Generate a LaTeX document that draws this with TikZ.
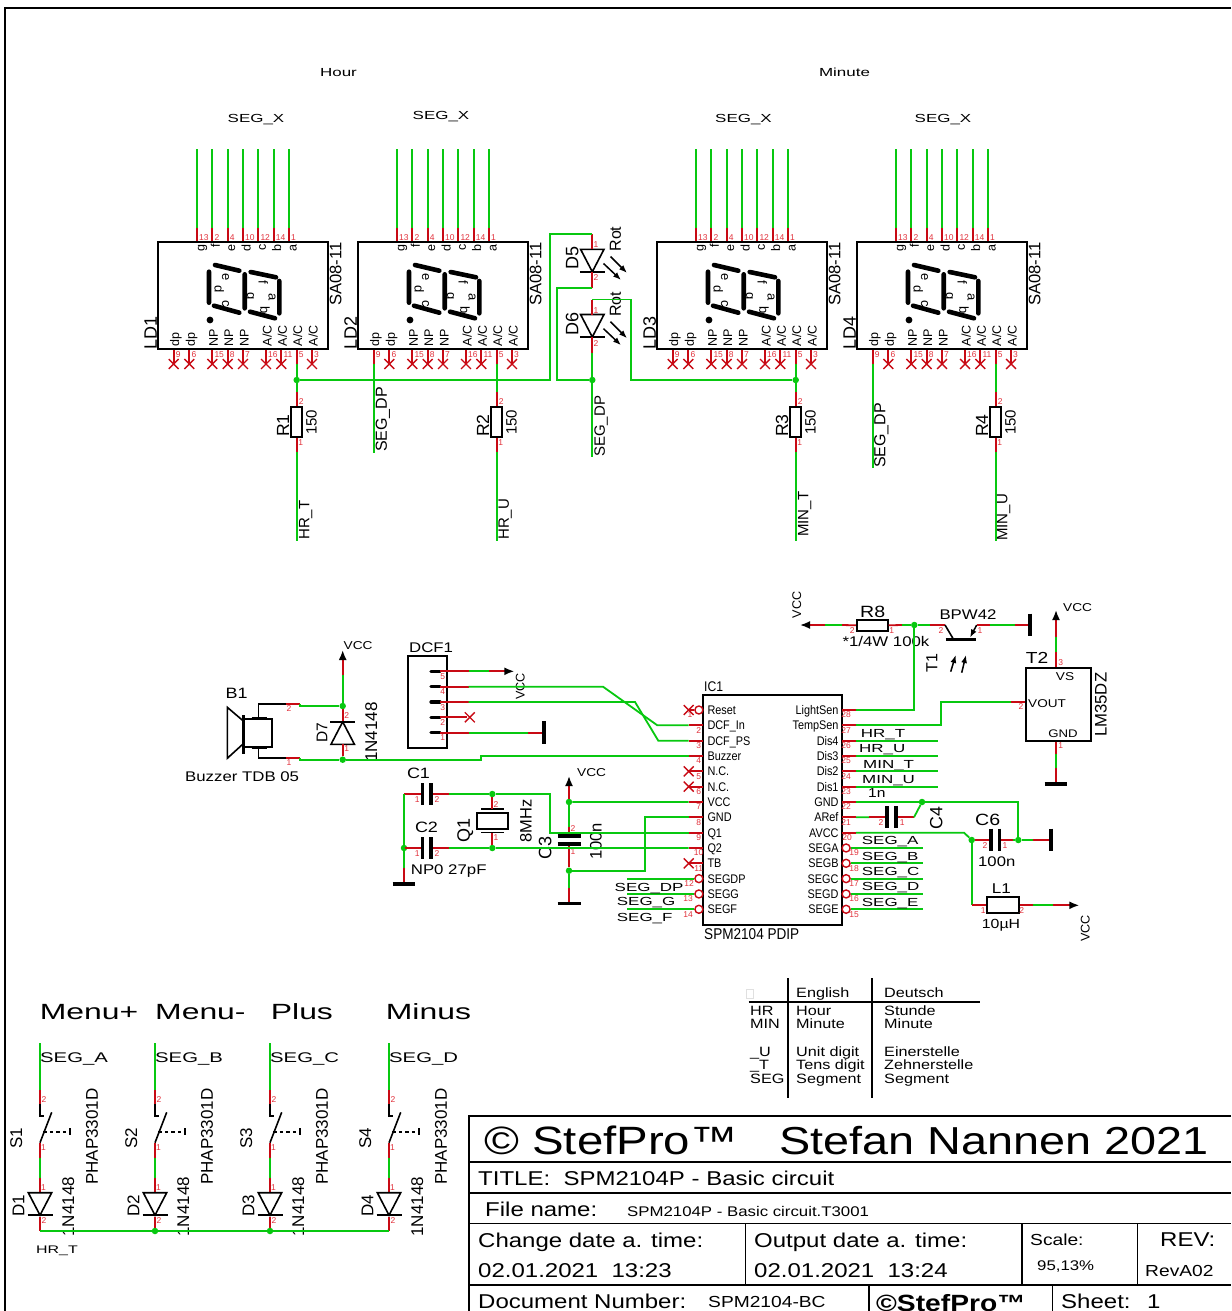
\documentclass[tikz,border=0pt]{standalone}
\usepackage{fontspec}
\setmainfont{Liberation Sans}
\newfontfamily\hfont[FakeStretch=1.2]{Liberation Sans}
\newfontfamily\wfont[FakeStretch=1.45]{Liberation Sans}
\newfontfamily\nfont[FakeStretch=0.87]{Liberation Sans}
\newcommand{\hsz}[1]{\hfont\fontsize{#1}{#1}\selectfont}
\newcommand{\wsz}[1]{\wfont\fontsize{#1}{#1}\selectfont}
\newcommand{\nsz}[1]{\nfont\fontsize{#1}{#1}\selectfont}
\newcommand{\vsz}[1]{\fontsize{#1}{#1}\selectfont}
\usetikzlibrary{arrows.meta,positioning,shapes.misc,calc}
\definecolor{mygreen}{RGB}{8,200,16}
\definecolor{myred}{RGB}{200,10,20}
\definecolor{mynum}{RGB}{225,50,60}
\tikzset{
  mywire/.style = {draw=mygreen, line width=1.8pt, line join=miter},
  mypin/.style = {draw=myred, line width=1.8pt},
  mypart/.style = {draw=black, line width=1.6pt, line join=miter},
  mybox/.style = {rectangle, draw=black, line width=1.8pt, fill=white, inner sep=0pt},
  mybar/.style = {draw=black, line width=3.6pt},
  myarrow/.style = {mypin, -{Latex[length=10pt,width=8pt,color=black]}},
  mylight/.style = {draw=black, line width=1.5pt, -{Latex[length=8pt,width=6pt,color=black]}},
  mycross/.style = {cross out, draw=myred, line width=1.4pt, minimum size=8.5pt, inner sep=0pt},
  mydot/.style = {circle, fill=mygreen, inner sep=0pt, minimum size=6.5pt},
  mybubble/.style = {circle, draw=myred, line width=1.4pt, fill=white, inner sep=0pt, minimum size=8pt},
  myh/.style = {font=\hsz{#1}, inner sep=0pt, text height=\dimexpr#1pt*72/100\relax, text depth=0pt},
  myw/.style = {font=\wsz{#1}, inner sep=0pt, text height=\dimexpr#1pt*72/100\relax, text depth=0pt},
  myn/.style = {font=\nsz{#1}, inner sep=0pt, text height=\dimexpr#1pt*72/100\relax, text depth=0pt},
  myv/.style = {font=\vsz{#1}, rotate=90, anchor=west, inner sep=0pt, text height=\dimexpr#1pt*72/100\relax, text depth=0pt},
  mypinno/.style = {font=\vsz{8.5}, text=mynum, inner sep=0pt},
  mydiode/.pic = {
    \draw[mypart] (-11.7,0) -- (11.7,0) -- (0,22.5) -- cycle;
    \draw[mypart] (-12.5,22.5) -- (12.5,22.5);
  },
}
\begin{document}
\begin{tikzpicture}[x=1pt, y=-1pt]
\useasboundingbox (0,0) rectangle (1231,1311);
\coordinate (fa) at (5,1311);
\coordinate (fb) at (5,8);
\coordinate (fc) at (1231,8);
\draw[black, line width=2.4pt] (fa) -- (fb) -- (fc);
\node[myw=11.7] (hour) at (338.5,72.5) {Hour};
\node[myw=11.7] (minute) at (844.5,72.5) {Minute};

\foreach \n/\x/\sx/\sy in {1/158.3/256/118, 2/358.3/441/115, 3/657.3/743.5/118, 4/857.3/943/118} {
  \node[myw=11.7] (segx\n) at (\sx,\sy) {SEG\_X};
  \begin{scope}[shift={(\x,0)}]
    \node[mybox, minimum width=169.4pt, minimum height=107.4pt] (ld\n) at (84.7,295.6) {};
    \node[myv=18] (ldname\n) at (-8,349.5) {LD\n};
    \node[myv=16.6] (ldtype\n) at (177,306) {SA08-11};
    \foreach \dx/\num/\seg in {38.7/13/g, 54/2/f, 69.4/4/e, 84.7/10/d, 100/12/c, 115.4/14/b, 130.7/1/a} {
      \coordinate (ld\n t\num) at (\dx,228);
      \draw[mywire] (ld\n t\num) -- ++(0,-78.7);
      \draw[mypin] (ld\n t\num) -- (ld\n t\num |- ld\n.north);
      \node[mypinno, anchor=west] (ld\n tn\num) at (\dx+2,237.5) {\num};
      \node[myv=12.5, anchor=east] (ld\n tl\num) at (\dx+3,244) {\seg};
    }
    \foreach \dx/\num/\seg in {15.4/9/dp, 31/6/dp, 54/15/NP, 69.4/8/NP, 84.7/7/NP, 107.7/16/{A/C}, 123/11/{A/C}, 138.4/5/{A/C}, 153.7/3/{A/C}} {
      \coordinate (ld\n b\num) at (\dx,364);
      \draw[mypin] (ld\n b\num) -- (ld\n b\num |- ld\n.south);
      \node[mypinno, anchor=west] (ld\n bn\num) at (\dx+2,355) {\num};
      \node[myv=12.5] (ld\n bl\num) at (\dx+1,346.5) {\seg};
      \ifnum\num=5 \else
        \ifnum\num=9 \ifodd\n \node[mycross] (ld\n x\num) at (ld\n b\num) {}; \fi
        \else \node[mycross] (ld\n x\num) at (ld\n b\num) {}; \fi
      \fi
    }
    \draw[black, line width=4.6pt, line cap=round] (56.7,265) -- (81,270.7) (50.7,271.7) -- (50.7,302.7) (55.7,305.7) -- (81,312.7) (86.4,274.3) -- (86.4,308.3) (92.4,272) -- (117.7,277.3) (121,281) -- (121,313.3) (91.7,311.7) -- (116.7,318.3);
    \fill[black] (51.7,320) circle (3.4pt);
    \foreach \lx/\ly/\seg in {68.4/277.3/e, 61/289.3/d, 68.4/303.3/c, 105/282.7/f, 93.4/296/g, 115/296.7/a, 106.7/310/b} {
      \node[myv=13, rotate=180, anchor=center] (ld\n s\seg) at (\lx,\ly) {\seg};
    }
  \end{scope}
}

\node[mydot] (j1) at (296.7,380) {};
\node[mydot] (j2) at (592.3,380) {};
\node[mydot] (j3) at (795.7,380) {};
\foreach \n/\x/\net/\nx/\nb in {1/296.7/HR\_T/304/540, 2/496.7/HR\_U/503.5/540, 3/795.7/MIN\_T/803/537, 4/995.7/MIN\_U/1002/541} {
  \node[mybox, minimum width=11pt, minimum height=30.6pt] (r\n) at (\x,422) {};
  \coordinate (r\n a) at (\x,392);
  \coordinate (r\n b) at (\x,452);
  \coordinate (r\n e) at (\x,541);
  \draw[mypin] (r\n a) -- (r\n.north);
  \draw[mypin] (r\n.south) -- (r\n b);
  \draw[mywire] (r\n b) -- (r\n e);
  \node[mypinno] (r\n n2) at (\x+4.5,402) {2};
  \node[mypinno] (r\n n1) at (\x+4,443) {1};
  \node[myv=17.6] (r\n name) at (\x-14,437) {R\n};
  \node[myv=15] (r\n val) at (\x+14.5,435) {150};
  \node[myv=15] (r\n net) at (\nx,\nb) {\net};
}
\draw[mywire] (ld1b5) -- (j1) -- (r1a);
\draw[mywire] (ld2b5) -- (r2a);
\draw[mywire] (ld3b5) -- (j3) -- (r3a);
\draw[mywire] (ld4b5) -- (r4a);
\draw[mywire] (ld2b9) -- ++(0,89);
\node[myv=16] (dpl2) at (381,452) {SEG\_DP};
\draw[mywire] (ld4b9) -- ++(0,104);
\node[myv=16] (dpl4) at (879.5,468) {SEG\_DP};

\foreach \n/\dy in {5/0, 6/65.2} {
  \begin{scope}[shift={(0,\dy)}]
    \pic (d\n) at (592.3,249.3) {mydiode};
    \coordinate (d\n top) at (592.3,234.3);
    \coordinate (d\n bot) at (592.3,287.7);
    \draw[mypin] (d\n top) -- ++(0,15);
    \draw[mypin] (d\n bot) -- ++(0,-15.9);
    \node[mypinno] (d\n n1) at (596,245) {1};
    \node[mypinno] (d\n n2) at (596,278) {2};
    \node[myv=18] (d\n name) at (572,270) {D\n};
    \node[myv=16] (d\n col) at (615,251.7) {Rot};
    \coordinate (d\n la) at (603.5,263.5);
    \coordinate (d\n lb) at (621,280);
    \coordinate (d\n lc) at (610.5,256.5);
    \coordinate (d\n ld) at (627,273);
    \draw[mylight] (d\n la) -- (d\n lb);
    \draw[mylight] (d\n lc) -- (d\n ld);
  \end{scope}
}
\draw[mywire] (j1) -- ++(253.3,0) |- (d5top);
\draw[mywire] (d5bot) -- ++(-35,0) |- (j2);
\draw[mywire] (j3) -- ++(-165,0) |- (d6top);
\draw[mywire] (d6bot) -- (j2);
\draw[mywire] (j2) -- ++(0,77);
\node[myv=15] (dpl5) at (599.5,457) {SEG\_DP};

\node[myh=15] (b1) at (236.7,693) {B1};
\node[myh=14, anchor=west] (b1type) at (185,776) {Buzzer TDB 05};
\draw[mypart] (227.3,707.3) -- (227.3,758.3) -- (243,744) -- (243,720.7) -- cycle;
\draw[draw=black, line width=2.6pt] (243.3,715) -- (243.3,754);
\node[mybox, minimum width=28pt, minimum height=27.3pt] (b1body) at (258,733) {};
\draw[mypart] (251.7,717.3) -- (266.7,717.3);
\draw[mypart] (251.7,748.3) -- (266.7,748.3);
\coordinate (b1a) at (286,704);
\coordinate (b1b) at (286,758);
\draw[mypart] (258.3,717.3) |- (b1a);
\draw[mypart] (258.3,748.3) |- (b1b);
\draw[mypin] (b1a) -- ++(14,0) coordinate (b1c);
\draw[mypin] (b1b) -- ++(14,0) coordinate (b1d);
\node[mypinno] (b1n2) at (289,709) {2};
\node[mypinno] (b1n1) at (289,762.7) {1};
\node[mydot] (j4) at (342.7,706) {};
\node[mydot] (j5) at (342.7,759.7) {};
\draw[mywire] (b1c) -- ++(0,2) -- (j4);
\draw[mywire] (b1d) -- ++(0,1.7) -- (j5);
\pic[yscale=-1] (d7) at (342.7,744.3) {mydiode};
\coordinate (d7up) at (342.7,675);
\draw[mywire] (j4) -- (d7up);
\draw[myarrow] (d7up) -- ++(0,-25);
\draw[mypin] (j4) -- ++(0,14.7);
\draw[mypin] (j5) -- ++(0,-15.4);
\node[mypinno] (d7n2) at (346.7,716) {2};
\node[mypinno] (d7n1) at (346.7,749) {1};
\node[myv=15.5] (d7name) at (321.7,742.7) {D7};
\node[myv=17] (d7type) at (371,762) {1N4148};
\node[myh=11.4, anchor=west] (d7vcc) at (343.5,645.7) {VCC};

\node[mybox, minimum width=38.7pt, minimum height=92.3pt] (dcf) at (427.3,702.2) {};
\node[myh=14, anchor=west] (dcfname) at (409,647) {DCF1};
\foreach \n/\y/\l in {5/671.3/28.7, 4/686.7/28.7, 3/702/28.7, 2/717.3/26.7, 1/732.7/28.7} {
  \coordinate (dcf\n) at (440,\y);
  \draw[mybar, line width=3.2pt, line cap=round] (dcf\n) -- ++(-9,0);
  \draw[mypin] (dcf\n) -- ++(\l,0) coordinate (dcfr\n);
  \node[mypinno] (dcfn\n) at (442.7,\y+5.3) {\n};
}
\node[mycross] (dcfx) at (469.8,717.3) {};
\draw[mywire] (dcfr5) -- ++(20.3,0) coordinate (dcfa);
\draw[myarrow] (dcfa) -- ++(25.3,0);
\node[myv=12.6] (dcfvcc) at (520,700) {VCC};
\draw[mywire] (dcfr1) -- ++(59.6,0) coordinate (dcfg);
\draw[mypin] (dcfg) -- ++(15.4,0) coordinate (dcfh);
\draw[mybar] (dcfh) ++(0,-11.5) -- ++(0,23);

\node[mydot] (j6) at (404,848) {};
\node[mydot] (j7) at (492.3,794) {};
\node[mydot] (j8) at (492.3,848) {};
\node[mydot] (j9) at (569,802) {};
\node[mydot] (j10) at (569,870.7) {};
\foreach \n/\y/\lx/\ly in {1/794/418.5/773, 2/848/426.5/827} {
  \coordinate (c\n l) at (404,\y);
  \coordinate (c\n p) at (422.3,\y);
  \coordinate (c\n q) at (430.7,\y);
  \coordinate (c\n r) at (449,\y);
  \draw[mypin] (c\n l) -- (c\n p);
  \draw[mypin] (c\n q) -- (c\n r);
  \draw[mybar] (c\n p) ++(0,-11) -- ++(0,22);
  \draw[mybar] (c\n q) ++(0,-11) -- ++(0,22);
  \node[mypinno] (c\n n1) at (417.3,\y+5.3) {1};
  \node[mypinno] (c\n n2) at (437,\y+5.3) {2};
  \node[myh=15] (c\n name) at (\lx,\ly) {C\n};
}
\node[myh=14, anchor=west] (c2val) at (410.7,869.5) {NP0 27pF};
\coordinate (gnda) at (404,868);
\coordinate (gndb) at (404,884);
\draw[mywire] (c1l) -- (gnda);
\draw[mypin] (gnda) -- (gndb);
\draw[mybar] (gndb) ++(-11.3,0) -- ++(22.6,0);
\draw[mywire] (c1r) -- (j7);
\draw[mywire] (c2r) -- (j8);
\node[mybox, minimum width=31.6pt, minimum height=16.3pt] (q1) at (492.5,821) {};
\draw[mypart] (481,809) -- (504.3,809);
\draw[mypart] (481,832.5) -- (504.3,832.5);
\draw[mypin] (j7) -- ++(0,15);
\draw[mypin] (j8) -- ++(0,-15.5);
\node[mypinno] (q1n2) at (496,805) {2};
\node[mypinno] (q1n1) at (496,837.7) {1};
\node[myv=18] (q1name) at (463.5,843) {Q1};
\node[myv=16.5] (q1val) at (525.7,843) {8MHz};

\coordinate (c3a) at (569,776);
\coordinate (c3b) at (569,826.5);
\coordinate (c3c) at (569,836);
\coordinate (c3d) at (569,844);
\coordinate (c3e) at (569,888);
\coordinate (c3f) at (569,903.3);
\draw[myarrow] (j9) -- (c3a);
\draw[mywire] (j9) -- (c3b);
\draw[mypin] (c3b) -- (c3c);
\draw[mypin] (c3d) -- (j10);
\draw[mywire] (j10) -- (c3e);
\draw[mypin] (c3e) -- (c3f);
\draw[mybar] (c3c) ++(-11.5,0) -- ++(23,0);
\draw[mybar] (c3d) ++(-11.5,0) -- ++(23,0);
\draw[mybar] (c3f) ++(-11.5,0) -- ++(23,0);
\node[mypinno] (c3n2) at (573,829) {2};
\node[mypinno] (c3n1) at (573,851.7) {1};
\node[myv=18] (c3name) at (545,860) {C3};
\node[myv=16.6] (c3val) at (595.7,860) {100n};
\node[myh=11.4, anchor=west] (c3vcc) at (577,772) {VCC};

\node[mybox, minimum width=138.4pt, minimum height=230pt, fill=none] (ic1) at (772.5,810) {};
\node[myn=14, anchor=west] (icname) at (704,686) {IC1};
\node[myn=15.6, anchor=west] (ictype) at (704,934) {SPM2104 PDIP};
\foreach \n/\nm/\nx in {1/Reset/690, 2/DCF\_In/698.7, 3/DCF\_PS/698.7, 4/Buzzer/698.7, 5/N.C./698.7, 6/N.C./698.7, 7/VCC/698.7, 8/GND/698.7, 9/Q1/698.7, 10/Q2/698.7, 11/TB/698.7, 12/SEGDP/689, 13/SEGG/688, 14/SEGF/688} {
  \coordinate (icl\n) at (703.3,{710+(\n-1)*15.33});
  \node[myn=12.5, anchor=west] (icln\n) at (707.3,{710+(\n-1)*15.33}) {\nm};
  \node[mypinno] (icld\n) at (\nx,{715+(\n-1)*15.33}) {\n};
}
\foreach \n/\nm/\nx in {28/LightSen/846, 27/TempSen/846, 26/Dis4/846, 25/Dis3/846, 24/Dis2/846, 23/Dis1/846, 22/GND/846, 21/ARef/846, 20/AVCC/847, 19/SEGA/854, 18/SEGB/854, 17/SEGC/854, 16/SEGD/854, 15/SEGE/854} {
  \coordinate (icr\n) at (841.7,{710+(28-\n)*15.33});
  \node[myn=12.5, anchor=east] (icrn\n) at (838.7,{710+(28-\n)*15.33}) {\nm};
  \node[mypinno] (icrd\n) at (\nx,{715+(28-\n)*15.33}) {\n};
}
\foreach \n in {2,...,11} {
  \draw[mypin] (icl\n) -- ++(-14.6,0) coordinate (ico\n);
}
\foreach \n in {20,...,28} {
  \draw[mypin] (icr\n) -- ++(14.3,0) coordinate (ico\n);
}
\foreach \n in {1,12,13,14} {
  \node[mybubble] (icb\n) at ($(icl\n)+(-4.4,0)$) {};
}
\foreach \n in {15,...,19} {
  \node[mybubble] (icb\n) at ($(icr\n)+(4.4,0)$) {};
  \draw[mywire] (icb\n) -- ++(76.7,0);
}
\foreach \n in {12,13,14} {
  \draw[mywire] (icb\n) -- ++(-71.6,0);
}
\draw[mypin] (icb1) -- ++(-10.2,0) coordinate (ico1);
\foreach \n in {1,5,6,11} {
  \node[mycross] (icx\n) at (ico\n) {};
}
\foreach \n/\nm/\x/\y in {a/SEG\_DP/614.5/887.3, b/SEG\_G/616.7/901.7, c/SEG\_F/616.7/917.3, d/SEG\_A/861.7/840.7, e/SEG\_B/861.7/856, f/SEG\_C/861.7/871, g/SEG\_D/861.7/886.7, h/SEG\_E/861.7/902, i/HR\_T/860.7/733.3, j/HR\_U/859/748.7, k/MIN\_T/863/764, l/MIN\_U/862/779.3} {
  \node[myw=11.7, anchor=west] (net\n) at (\x,\y) {\nm};
}
\draw[mywire] (dcfr4) -- ++(134.3,0) -- (657.3,725.3) -- (ico2);
\draw[mywire] (dcfr3) -- ++(166.3,0) -- (658.3,740.7) -- (ico3);
\draw[mywire] (j5) -- ++(138.3,0) |- (ico4);
\draw[mywire] (j9) -- (ico7);
\draw[mywire] (j10) -- ++(76,0) |- (ico8);
\draw[mywire] (j7) -- ++(57.7,0) |- (ico9);
\draw[mywire] (j8) -- (ico10);
\foreach \n in {23,...,26} {
  \draw[mywire] (ico\n) -- ++(82.3,0);
}

\node[mydot] (j11) at (914.3,625) {};
\node[mydot] (j12) at (922,802) {};
\node[mydot] (j13) at (1018.3,840) {};
\node[mydot] (j14) at (971.7,840) {};
\node[mybox, minimum width=31pt, minimum height=10.7pt] (r8) at (872.2,625.3) {};
\coordinate (r8a) at (841.7,625);
\coordinate (r8b) at (825,625);
\coordinate (r8c) at (902,625);
\coordinate (t1a) at (930,625);
\coordinate (t1b) at (945,625);
\coordinate (t1c) at (976.7,625);
\coordinate (t1d) at (990,625);
\coordinate (t1e) at (1015,625);
\coordinate (t1f) at (1030,625);
\draw[mypin] (r8a) -- (r8.west);
\draw[mywire] (r8a) -- (r8b);
\draw[myarrow] (r8b) -- ++(-25,0);
\draw[mypin] (r8.east) -- (r8c);
\draw[mywire] (r8c) -- (j11) -- (t1a);
\draw[mypin] (t1a) -- (t1b);
\draw[mypart] (t1b) -- (953.3,639);
\draw[mybar] (945.7,639.5) -- (975.7,639.5);
\draw[mylight] (t1c) -- (970,637.5);
\draw[mypin] (t1c) -- (t1d);
\draw[mywire] (t1d) -- (t1e);
\draw[mypin] (t1e) -- (t1f);
\draw[mybar] (t1f) ++(0,-11.3) -- ++(0,22.6);
\draw[mylight] (950.7,671.7) -- (955.7,655);
\draw[mylight] (961.7,672.7) -- (966,655);
\node[mypinno] (r8n2) at (852.3,631) {2};
\node[mypinno] (r8n1) at (891.7,631) {1};
\node[mypinno] (t1n2) at (941,631) {2};
\node[mypinno] (t1n1) at (980,631) {1};
\node[myh=16.3, anchor=west] (r8name) at (860,611.7) {R8};
\node[myh=14, anchor=west] (r8val) at (842.3,641.7) {*1/4W 100k};
\node[myh=14, anchor=west] (t1type) at (939.3,614) {BPW42};
\node[myv=16] (t1name) at (931.7,672.7) {T1};
\node[myv=12.6] (r8vcc) at (796.7,618.3) {VCC};
\draw[mywire] (ico28) -| (j11);

\node[mybox, minimum width=65.3pt, minimum height=73pt, fill=none] (t2) at (1058.4,704.2) {};
\coordinate (t2a) at (1056,651.7);
\coordinate (t2b) at (1056,636.7);
\coordinate (t2c) at (1011,702.3);
\coordinate (t2d) at (1056,754);
\coordinate (t2e) at (1056,768);
\coordinate (t2f) at (1056,784);
\draw[mypin] (t2a) -- (t2a |- t2.north);
\draw[mywire] (t2a) -- (t2b);
\draw[myarrow] (t2b) -- ++(0,-26.7);
\draw[mypin] (t2c) -- (t2c -| t2.west);
\draw[mypin] (t2d |- t2.south) -- (t2d);
\draw[mywire] (t2d) -- (t2e);
\draw[mypin] (t2e) -- (t2f);
\draw[mybar] (t2f) ++(-11.3,0) -- ++(22.6,0);
\draw[mywire] (ico27) -- ++(85.3,0) |- (t2c);
\node[mypinno] (t2n3) at (1060.7,663) {3};
\node[mypinno] (t2n2) at (1021,707) {2};
\node[mypinno] (t2n1) at (1060.7,745.7) {1};
\node[myh=11.4] (t2vs) at (1065,676) {VS};
\node[myh=11.3, anchor=west] (t2vout) at (1028,703.3) {VOUT};
\node[myh=11] (t2gnd) at (1063,734) {GND};
\node[myh=16, anchor=west] (t2name) at (1025.7,658) {T2};
\node[myv=16.7] (t2type) at (1100.7,737) {LM35DZ};
\node[myh=11.4, anchor=west] (t2vcc) at (1063,607.7) {VCC};

\coordinate (c4a) at (869.3,817.3);
\coordinate (c4b) at (887,817.3);
\coordinate (c4c) at (895.7,817.3);
\coordinate (c4d) at (914,817.3);
\draw[mywire] (ico22) -| (j13);
\draw[mywire] (ico21) -- (c4a);
\draw[mypin] (c4a) -- (c4b);
\draw[mypin] (c4c) -- (c4d);
\draw[mywire] (c4d) -- (j12);
\draw[mybar] (c4b) ++(0,-11) -- ++(0,22);
\draw[mybar] (c4c) ++(0,-11) -- ++(0,22);
\node[mypinno] (c4n2) at (881,822.7) {2};
\node[mypinno] (c4n1) at (902.3,822.7) {1};
\node[myv=17.7] (c4name) at (936,829.3) {C4};
\node[myh=13, anchor=west] (c4val) at (868,793.3) {1n};
\draw[mywire] (ico20) -- ++(108,0) -- (j14);
\coordinate (c6a) at (975,840);
\coordinate (c6b) at (990.7,840);
\coordinate (c6c) at (999.3,840);
\coordinate (c6d) at (1013,840);
\coordinate (c6e) at (1033,840);
\coordinate (c6f) at (1050.7,840);
\draw[mywire] (j14) -- (c6a);
\draw[mypin] (c6a) -- (c6b);
\draw[mypin] (c6c) -- (c6d);
\draw[mywire] (c6d) -- (j13) -- (c6e);
\draw[mypin] (c6e) -- (c6f);
\draw[mybar] (c6b) ++(0,-11.3) -- ++(0,22.6);
\draw[mybar] (c6c) ++(0,-11.3) -- ++(0,22.6);
\draw[mybar] (c6f) ++(0,-11.3) -- ++(0,22.6);
\node[mypinno] (c6n2) at (985,845.3) {2};
\node[mypinno] (c6n1) at (1005,845.3) {1};
\node[myh=16.3, anchor=west] (c6name) at (975,820) {C6};
\node[myh=13.9, anchor=west] (c6val) at (978,861) {100n};
\node[mybox, minimum width=32.3pt, minimum height=16pt] (l1) at (1002.8,905.3) {};
\coordinate (l1a) at (971.7,905.3);
\coordinate (l1b) at (1033,905.3);
\coordinate (l1c) at (1053,905.3);
\draw[mywire] (j14) |- (l1a);
\draw[mypin] (l1a) -- (l1.west);
\draw[mypin] (l1.east) -- (l1b);
\draw[mywire] (l1b) -- (l1c);
\draw[myarrow] (l1c) -- ++(26.3,0);
\node[mypinno] (l1n1) at (983.3,910.3) {1};
\node[mypinno] (l1n2) at (1021.7,910.3) {2};
\node[myh=14.2, anchor=west] (l1name) at (991.7,888.3) {L1};
\node[myh=13.2, anchor=west] (l1val) at (981.7,923.3) {10µH};
\node[myv=12.6] (l1vcc) at (1085,942) {VCC};

\foreach \n/\x/\top/\tx/\seg in {1/40/Menu+/39.7/SEG\_A, 2/155/Menu-/155/SEG\_B, 3/270/Plus/270.7/SEG\_C, 4/389/Minus/385.7/SEG\_D} {
  \node[myw=22, anchor=west] (btn\n) at (\tx,1012) {\top};
  \node[myw=14, anchor=west] (sn\n) at (\x,1057.7) {\seg};
  \coordinate (s\n a) at (\x,1043.3);
  \coordinate (s\n b) at (\x,1090);
  \coordinate (s\n c) at (\x,1104);
  \coordinate (s\n d) at (\x,1142.7);
  \coordinate (s\n e) at (\x,1157.7);
  \coordinate (s\n f) at (\x,1178);
  \coordinate (s\n g) at (\x,1192.7);
  \coordinate (s\n h) at (\x,1216.7);
  \coordinate (s\n i) at (\x,1231);
  \draw[mywire] (s\n a) -- (s\n b);
  \draw[mypin] (s\n b) -- (s\n c);
  \draw[mypart] (s\n c) -- ++(0,12) -- ++(4,0);
  \draw[mypart] (s\n d) -- ++(11.7,-30.4);
  \draw[mypart, dashed, dash pattern=on 3.5pt off 3pt] (s\n d) ++(3.4,-11) -- ++(26.6,0);
  \draw[mypart] (s\n d) ++(30,-14.3) -- ++(0,6.6);
  \draw[mypin] (s\n d) -- (s\n e);
  \draw[mywire] (s\n e) -- (s\n f);
  \draw[mypin] (s\n f) -- (s\n g);
  \pic (dsw\n) at (s\n g) {mydiode};
  \draw[mypin] (s\n h) -- (s\n i);
  \node[mypinno] (s\n n2) at (\x+4,1100) {2};
  \node[mypinno] (s\n n1) at (\x+3.5,1148) {1};
  \node[mypinno] (s\n n3) at (\x+3.5,1188) {1};
  \node[mypinno] (s\n n4) at (\x+4,1220.7) {2};
  \node[myv=17] (s\n name) at (\x-24,1149) {S\n};
  \node[myv=17] (s\n type) at (\x+51.7,1185) {PHAP3301D};
  \node[myv=17] (s\n dname) at (\x-21.7,1216.7) {D\n};
  \node[myv=17] (s\n dtype) at (\x+28,1236.7) {1N4148};
}
\node[mydot] (j15) at (155,1231) {};
\node[mydot] (j16) at (270,1231) {};
\draw[mywire] (s1i) -- (j15) -- (j16) -- (s4i);
\node[myw=11, anchor=west] (hrt) at (36,1250) {HR\_T};

\draw[black, line width=1.2pt] (788,978) -- (788,1098) (872,978) -- (872,1098);
\draw[black, line width=1.6pt] (748.6,1001.7) -- (980,1001.7);
\draw[black!12, line width=0.5pt] (746,989) rectangle (753,998);
\foreach \n/\y/\a/\b/\c in {0/993//English/Deutsch, 1/1010.7/HR/Hour/Stunde, 2/1024/MIN/Minute/Minute, 3/1051.7/\_U/Unit digit/Einerstelle, 4/1065/\_T/Tens digit/Zehnerstelle, 5/1078.7/SEG/Segment/Segment} {
  \node[myh=13.5, anchor=west] (lega\n) at (750,\y) {\a};
  \node[myh=13.5, anchor=west] (legb\n) at (796,\y) {\b};
  \node[myh=13.5, anchor=west] (legc\n) at (884,\y) {\c};
}

\draw[black, line width=1.6pt] (1231,1115.7) -- (469,1115.7) -- (469,1311);
\foreach \y in {1162,1192.7,1223.3,1284.7} {
  \draw[black, line width=1.6pt] (469,\y) -- (1231,\y);
}
\foreach \x in {745.6,1022,1137.5} {
  \draw[black, line width=1.4pt] (\x,1223.3) -- (\x,1284.7);
}
\foreach \x in {869,1052.5} {
  \draw[black, line width=1.4pt] (\x,1284.7) -- (\x,1311);
}
\node[myh=39.5, anchor=west] (tba) at (484,1140) {© StefPro™};
\node[myh=39, anchor=west] (tbb) at (779,1140) {Stefan Nannen 2021};
\node[myh=20, anchor=west] (tbc) at (478,1178) {TITLE:\ \ SPM2104P - Basic circuit};
\node[myh=20, anchor=west] (tbd) at (485,1209) {File name:};
\node[myh=14, anchor=west] (tbe) at (627,1211) {SPM2104P - Basic circuit.T3001};
\node[myh=20, anchor=west] (tbf) at (478,1240) {Change date a. time:};
\node[myh=20, anchor=west] (tbg) at (478,1270) {02.01.2021\ \ 13:23};
\node[myh=20, anchor=west] (tbh) at (754,1240) {Output date a. time:};
\node[myh=20, anchor=west] (tbi) at (754,1270) {02.01.2021\ \ 13:24};
\node[myh=16, anchor=west] (tbj) at (1030,1240) {Scale:};
\node[myh=14, anchor=west] (tbk) at (1037,1265) {95,13\%};
\node[myh=20, anchor=west] (tbl) at (1160,1239) {REV:};
\node[myh=16, anchor=west] (tbm) at (1145,1271) {RevA02};
\node[myh=20, anchor=west] (tbn) at (478,1301) {Document Number:};
\node[myh=16, anchor=west] (tbo) at (708,1302) {SPM2104-BC};
\node[myh=23.5, anchor=west] (tbp) at (876,1303) {\bfseries ©StefPro™};
\node[myh=20, anchor=west] (tbq) at (1061,1301) {Sheet:};
\node[myh=20, anchor=west] (tbr) at (1147,1301) {1};
\end{tikzpicture}
\end{document}
